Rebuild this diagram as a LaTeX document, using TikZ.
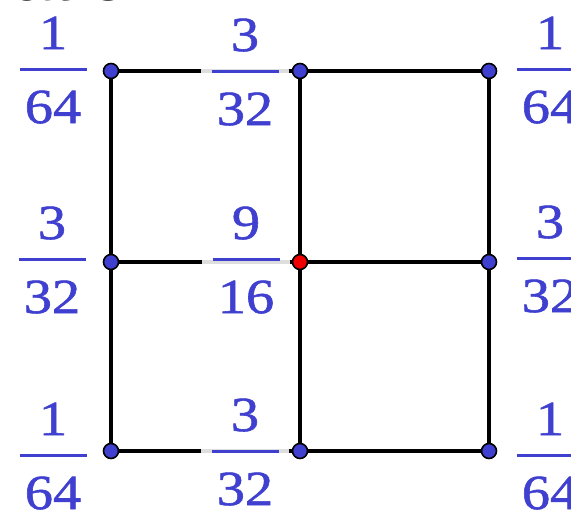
\documentclass[tikz,border=0pt]{standalone}
\usepackage{fontspec}
\setmainfont{Liberation Sans}
\newfontfamily\numfont[FakeStretch=1.15,FakeBold=1.2]{Liberation Serif}
\definecolor{gblue}{RGB}{64,64,208}
\definecolor{gred}{RGB}{240,0,0}
\pgfdeclarelayer{bg}
\pgfdeclarelayer{mid}
\pgfsetlayers{bg,mid,main}
\newcommand\fracat[5]{%
  \begin{pgfonlayer}{mid}\fill[veil] ({#2-44},{#3-48}) rectangle ({#2+44},{#3+58});\end{pgfonlayer}
  \node[fracnum] (#1n) at (#2,{#3-20}) {#4};
  \node[fracnum] (#1d) at (#2,{#3+54}) {#5};
  \draw[fracbar] ({#2-33.5},#3) -- ({#2+33.5},#3);}
\begin{document}
\begin{tikzpicture}[x=1pt,y=-1pt,
  edge/.style={line width=3.8pt,black},
  pt/.style={circle,inner sep=0pt,minimum size=15pt,fill=gblue,draw=black,line width=1.6pt},
  fracnum/.style={anchor=base,inner sep=0pt,text=gblue,font=\numfont\fontsize{49}{50}\selectfont},
  fracbar/.style={line width=3pt,gblue},
  veil/.style={fill=white,fill opacity=0.87}]
\useasboundingbox (0,0) rectangle (571,512);
\clip (0,0) rectangle (571,512);
% partial title text cut by the top edge
\node[anchor=base west,inner sep=0pt,font=\fontsize{72}{80}\selectfont] (title) at (12,0.5) {ation};
% vertices
\node[pt] (a1) at (111,71) {};
\node[pt] (a2) at (300,71) {};
\node[pt] (a3) at (489,71) {};
\node[pt] (b1) at (111,262) {};
\node[pt,fill=gred] (b2) at (300,262) {};
\node[pt] (b3) at (489,262) {};
\node[pt] (c1) at (111,451) {};
\node[pt] (c2) at (300,451) {};
\node[pt] (c3) at (489,451) {};
% edges
\begin{pgfonlayer}{bg}
\draw[edge] (a1.center) -- (a2.center) -- (a3.center);
\draw[edge] (b1.center) -- (b2.center) -- (b3.center);
\draw[edge] (c1.center) -- (c2.center) -- (c3.center);
\draw[edge] (a1.center) -- (b1.center) -- (c1.center);
\draw[edge] (a2.center) -- (b2.center) -- (c2.center);
\draw[edge] (a3.center) -- (b3.center) -- (c3.center);
\end{pgfonlayer}
% fractions
\fracat{tl}{53}{69}{1}{64}
\fracat{tm}{245}{71}{3}{32}
\fracat{tr}{550}{69}{1}{64}
\fracat{ml}{52}{259}{3}{32}
\fracat{mm}{246}{259}{9}{16}
\fracat{mr}{550}{258}{3}{32}
\fracat{bl}{53}{455}{1}{64}
\fracat{bm}{245}{451}{3}{32}
\fracat{br}{550}{455}{1}{64}
\end{tikzpicture}
\end{document}
